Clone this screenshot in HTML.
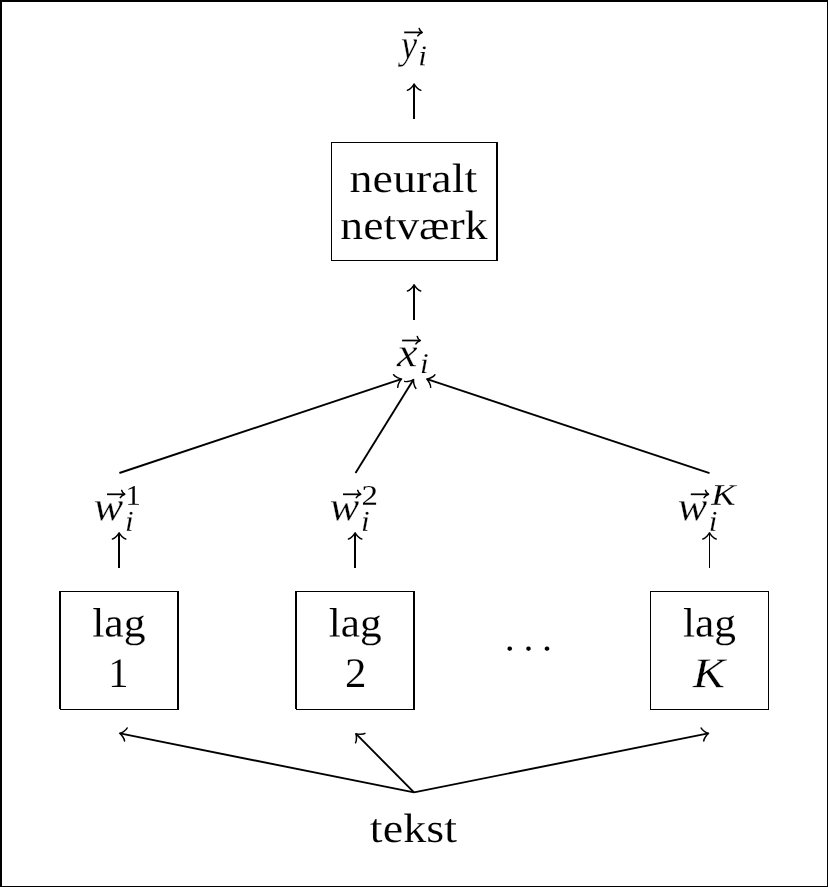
<!DOCTYPE html>
<html lang="da">
<head>
<meta charset="utf-8">
<title>neuralt netværk</title>
<style>
html,body{margin:0;padding:0;background:#fff;}
body{width:828px;height:887px;overflow:hidden;position:relative;}
#frame{position:absolute;left:0;top:0;width:828px;height:887px;box-sizing:border-box;border-style:solid;border-color:#000;border-width:2px 1px 1px 2px;}
svg{position:absolute;left:0;top:0;display:block;will-change:transform;}
text{fill:#000;font-family:"Liberation Serif",serif;font-size:41.0px;white-space:pre;text-rendering:geometricPrecision;stroke:#fff;stroke-width:0.12px;paint-order:fill stroke;}
.i{font-style:italic;stroke-width:0.28px;}
.sm{stroke-width:0.05px;}
.smi{stroke-width:0.14px;}
.fx{fill:#000;shape-rendering:crispEdges;}
.ln{stroke:#000;stroke-width:1.9;fill:none;}
.hd{stroke:#000;stroke-width:1.5;fill:none;stroke-linecap:round;stroke-linejoin:round;}
.vc{stroke:#000;stroke-width:1.75;fill:none;}
.vh{stroke:#000;stroke-width:1.55;fill:none;stroke-linecap:round;stroke-linejoin:round;}
</style>
</head>
<body>
<div id="frame"></div>
<svg width="828" height="887" viewBox="0 0 828 887">
<g id="boxes">
<rect class="fx" x="331" y="142" width="1" height="119"/><rect class="fx" x="496" y="142" width="2" height="119"/><rect class="fx" x="331" y="142" width="167" height="1"/><rect class="fx" x="331" y="260" width="167" height="1"/>
<rect class="fx" x="59" y="591" width="1" height="118"/><rect class="fx" x="60" y="591" width="1" height="119"/><rect class="fx" x="177" y="591" width="2" height="119"/><rect class="fx" x="59" y="591" width="120" height="1"/><rect class="fx" x="60" y="709" width="119" height="1"/>
<rect class="fx" x="295" y="591" width="1" height="118"/><rect class="fx" x="296" y="591" width="1" height="119"/><rect class="fx" x="413" y="591" width="2" height="119"/><rect class="fx" x="295" y="591" width="120" height="1"/><rect class="fx" x="296" y="709" width="119" height="1"/>
<rect class="fx" x="650" y="591" width="1" height="119"/><rect class="fx" x="768" y="591" width="1" height="119"/><rect class="fx" x="650" y="591" width="119" height="1"/><rect class="fx" x="650" y="709" width="119" height="1"/>
</g>
<g id="arrows">
<rect class="fx" x="413" y="84.40" width="2" height="34.60"/><path class="hd" d="M-6.89,6.64 C-6.48,4.15 -1.91,0.42 -0.66,0 C-1.91,-0.42 -6.48,-4.15 -6.89,-6.64" transform="translate(414.10,83.40) rotate(-90.00)"/>
<rect class="fx" x="413" y="285.10" width="2" height="34.90"/><path class="hd" d="M-6.89,6.64 C-6.48,4.15 -1.91,0.42 -0.66,0 C-1.91,-0.42 -6.48,-4.15 -6.89,-6.64" transform="translate(414.10,284.10) rotate(-90.00)"/>
<line class="ln" x1="119.40" y1="473.00" x2="401.25" y2="379.12"/><path class="hd" d="M-6.89,6.64 C-6.48,4.15 -1.91,0.42 -0.66,0 C-1.91,-0.42 -6.48,-4.15 -6.89,-6.64" transform="translate(402.20,378.80) rotate(-18.42)"/>
<line class="ln" x1="355.50" y1="473.00" x2="413.37" y2="379.85"/><path class="hd" d="M-6.89,6.64 C-6.48,4.15 -1.91,0.42 -0.66,0 C-1.91,-0.42 -6.48,-4.15 -6.89,-6.64" transform="translate(413.90,379.00) rotate(-58.15)"/>
<line class="ln" x1="709.50" y1="473.20" x2="427.15" y2="379.22"/><path class="hd" d="M-6.89,6.64 C-6.48,4.15 -1.91,0.42 -0.66,0 C-1.91,-0.42 -6.48,-4.15 -6.89,-6.64" transform="translate(426.20,378.90) rotate(-161.59)"/>
<rect class="fx" x="118" y="533.20" width="2" height="34.80"/><path class="hd" d="M-6.89,6.64 C-6.48,4.15 -1.91,0.42 -0.66,0 C-1.91,-0.42 -6.48,-4.15 -6.89,-6.64" transform="translate(119.10,532.20) rotate(-90.00)"/>
<rect class="fx" x="354" y="533.20" width="2" height="34.80"/><path class="hd" d="M-6.89,6.64 C-6.48,4.15 -1.91,0.42 -0.66,0 C-1.91,-0.42 -6.48,-4.15 -6.89,-6.64" transform="translate(355.10,532.20) rotate(-90.00)"/>
<rect class="fx" x="709" y="533.20" width="1" height="34.80"/><path class="hd" d="M-6.89,6.64 C-6.48,4.15 -1.91,0.42 -0.66,0 C-1.91,-0.42 -6.48,-4.15 -6.89,-6.64" transform="translate(709.50,532.20) rotate(-90.00)"/>
<line class="ln" x1="414.00" y1="792.40" x2="120.08" y2="733.40"/><path class="hd" d="M-6.89,6.64 C-6.48,4.15 -1.91,0.42 -0.66,0 C-1.91,-0.42 -6.48,-4.15 -6.89,-6.64" transform="translate(119.10,733.20) rotate(-168.65)"/>
<line class="ln" x1="414.00" y1="792.40" x2="356.10" y2="733.91"/><path class="hd" d="M-6.89,6.64 C-6.48,4.15 -1.91,0.42 -0.66,0 C-1.91,-0.42 -6.48,-4.15 -6.89,-6.64" transform="translate(355.40,733.20) rotate(-134.71)"/>
<line class="ln" x1="414.00" y1="792.40" x2="708.22" y2="733.40"/><path class="hd" d="M-6.89,6.64 C-6.48,4.15 -1.91,0.42 -0.66,0 C-1.91,-0.42 -6.48,-4.15 -6.89,-6.64" transform="translate(709.20,733.20) rotate(-11.34)"/>
</g>
<g id="labels">
<text class="r" style="font-size:41.0px;letter-spacing:0.041px;" transform="translate(349.47,192.00) rotate(0.03) scale(1.1200,1)">neuralt</text>
<text class="r" style="font-size:41.0px;" transform="translate(340.27,239.00) rotate(0.03) scale(1.1155,1)">netværk</text>
<text class="r" style="font-size:41.0px;" transform="translate(92.23,636.60) rotate(0.03) scale(1.0643,1)">lag</text>
<text class="r" style="font-size:41.0px;" transform="translate(328.78,636.60) rotate(0.03) scale(1.0571,1)">lag</text>
<text class="r" style="font-size:41.0px;" transform="translate(683.03,636.60) rotate(0.03) scale(1.0591,1)">lag</text>
<text class="r" style="font-size:42.2px;" transform="translate(108.30,687.00) rotate(0.03) scale(0.9613,1)">1</text>
<text class="r" style="font-size:42.2px;" transform="translate(344.92,686.90) rotate(0.03) scale(1.0158,1)">2</text>
<text class="i" style="font-size:42.4px;" transform="translate(692.64,687.30) rotate(0.03) scale(1.1412,1)">K</text>
<text class="r" style="font-size:41.0px;letter-spacing:0.147px;" transform="translate(369.74,841.90) rotate(0.03) scale(1.1200,1)">tekst</text>
<text class="r" style="font-size:40px;letter-spacing:8.7px" transform="translate(504.70,650.55) rotate(0.03)">...</text>
</g>
<g id="math">
<text class="i" style="font-size:41.0px;" transform="translate(401.03,58.20) rotate(0.03) scale(0.8831,1)">y</text>
<text class="i sm smi" style="font-size:28.8px;" transform="translate(418.13,65.30) rotate(0.03) scale(1.0800,1)">i</text>
<path class="vc" d="M404.20,32.40 H421.90"/><path class="vh" d="M419.20,28.50 C419.60,30.10 420.70,31.60 422.20,32.40 C420.30,33.10 418.70,34.40 417.80,35.80"/>
<text class="i" style="font-size:41.0px;" transform="translate(396.88,366.20) rotate(0.03) scale(1.1251,1)">x</text>
<text class="i sm smi" style="font-size:28.8px;" transform="translate(419.88,373.10) rotate(0.03) scale(1.0800,1)">i</text>
<path class="vc" d="M402.10,340.50 H420.00"/><path class="vh" d="M417.30,336.60 C417.70,338.20 418.80,339.70 420.30,340.50 C418.40,341.20 416.80,342.50 415.90,343.90"/>
<text class="i" style="font-size:41.0px;" transform="translate(93.85,520.10) rotate(0.03) scale(1.0772,1)">w</text>
<text class="i sm smi" style="font-size:28.8px;" transform="translate(124.98,530.80) rotate(0.03) scale(1.0800,1)">i</text>
<text class="r sm" style="font-size:28.5px;" transform="translate(125.42,504.80) rotate(0.03) scale(1.0750,1)">1</text>
<path class="vc" d="M107.00,494.30 H124.40"/><path class="vh" d="M121.70,490.40 C122.10,492.00 123.20,493.50 124.70,494.30 C122.80,495.00 121.20,496.30 120.30,497.70"/>
<text class="i" style="font-size:41.0px;" transform="translate(329.85,520.10) rotate(0.03) scale(1.0772,1)">w</text>
<text class="i sm smi" style="font-size:28.8px;" transform="translate(360.98,530.80) rotate(0.03) scale(1.0800,1)">i</text>
<text class="r sm" style="font-size:28.5px;" transform="translate(361.56,504.80) rotate(0.03) scale(1.1543,1)">2</text>
<path class="vc" d="M343.00,494.30 H360.40"/><path class="vh" d="M357.70,490.40 C358.10,492.00 359.20,493.50 360.70,494.30 C358.80,495.00 357.20,496.30 356.30,497.70"/>
<text class="i" style="font-size:41.0px;" transform="translate(677.65,520.10) rotate(0.03) scale(1.0772,1)">w</text>
<text class="i sm smi" style="font-size:28.8px;" transform="translate(708.78,530.80) rotate(0.03) scale(1.0800,1)">i</text>
<text class="i sm smi" style="font-size:30.0px;" transform="translate(711.21,504.80) rotate(0.03) scale(1.2155,1)">K</text>
<path class="vc" d="M690.80,494.30 H708.20"/><path class="vh" d="M705.50,490.40 C705.90,492.00 707.00,493.50 708.50,494.30 C706.60,495.00 705.00,496.30 704.10,497.70"/>
</g>
</svg>
</body>
</html>
